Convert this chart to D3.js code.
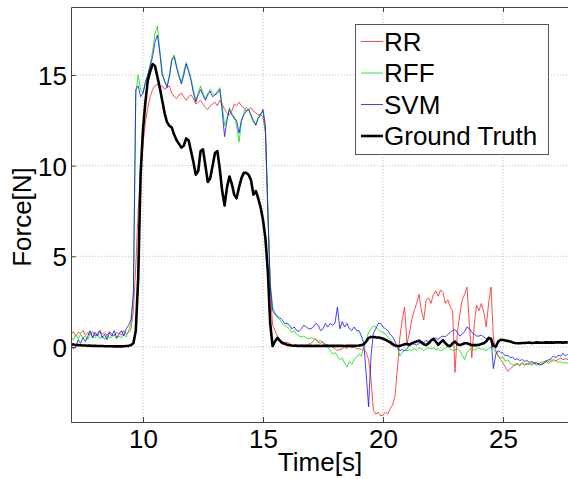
<!DOCTYPE html>
<html>
<head>
<meta charset="utf-8">
<script src="https://cdn.jsdelivr.net/npm/d3@7"></script>
<style>
  body { margin: 0; background: #fff; }
  svg { display: block; font-family: "Liberation Sans", Arial, sans-serif; }
</style>
</head>
<body>
<svg class="force_svg" width="568" height="479"></svg>
<script>
// sampling: 7.0 s .. 27.7 s, every 0.1 s
var t0 = 7, dt = 0.1;

var groundTruth = [
  0.15,0.13,0.11,0.10,0.09,0.08,0.08,0.07,0.07,0.06,
  0.06,0.05,0.05,0.05,0.04,0.04,0.04,0.04,0.03,0.03,
  0.03,0.03,0.04,0.05,0.06,0.1,0.2,0.9,3.8,9.5,
  12.0,13.5,14.7,15.2,15.6,15.5,14.9,14.3,13.6,12.9,
  12.4,12.2,12.1,11.7,11.4,11.2,11.0,11.1,11.5,11.4,
  10.8,10.2,9.5,9.7,10.8,10.9,10.0,9.1,9.3,10.0,
  10.7,10.8,9.8,8.6,7.8,8.8,9.4,9.0,8.4,8.2,
  8.8,9.3,9.6,9.6,9.5,9.2,8.4,8.6,8.2,7.7,
  7.0,6.0,4.2,1.3,0.05,0.3,0.5,0.35,0.22,0.18,
  0.12,0.1,0.08,0.07,0.07,0.06,0.06,0.07,0.06,0.06,
  0.06,0.05,0.06,0.06,0.05,0.06,0.07,0.06,0.06,0.07,
  0.06,0.07,0.06,0.06,0.05,0.06,0.07,0.06,0.06,0.07,
  0.08,0.1,0.15,0.3,0.5,0.55,0.55,0.53,0.52,0.5,
  0.45,0.4,0.32,0.25,0.15,0.08,0.05,0.06,0.1,0.15,
  0.17,0.12,0.2,0.25,0.3,0.35,0.25,0.15,0.1,0.2,
  0.35,0.45,0.3,0.12,0.25,0.37,0.2,0.08,0.05,0.2,
  0.3,0.15,0.1,0.15,0.2,0.2,0.15,0.1,0.1,0.1,
  0.12,0.17,0.2,0.3,0.5,0.45,0.05,0.02,0.3,0.4,
  0.38,0.36,0.33,0.3,0.25,0.22,0.2,0.2,0.22,0.22,
  0.23,0.24,0.22,0.23,0.25,0.24,0.23,0.24,0.25,0.24,
  0.25,0.24,0.25,0.26,0.25,0.24,0.25,0.25
];

var rr = [
  0.7,0.85,0.6,0.8,0.75,0.9,0.65,0.8,0.7,0.85,
  0.6,0.75,0.9,0.7,0.8,0.65,0.85,0.7,0.6,0.8,
  0.75,0.65,0.9,0.7,0.8,1.0,2.0,4.5,7.5,9.5,
  11.2,12.4,13.2,13.8,14.2,14.4,14.5,14.3,14.4,14.2,
  14.3,14.4,14.0,13.8,13.7,13.9,14.0,13.8,13.6,13.8,
  13.9,13.7,13.4,13.5,13.6,13.4,13.2,13.1,13.3,13.4,
  13.5,13.3,13.6,13.4,13.1,12.9,12.8,13.0,13.4,13.3,
  13.5,13.3,13.2,13.0,13.1,13.2,13.0,12.9,12.8,12.8,
  12.7,11.8,7.5,3.2,1.2,0.9,0.6,0.4,0.3,0.25,
  0.25,0.2,0.1,0.05,0.0,0.05,0.1,0.0,0.05,0.15,
  0.2,0.35,0.45,0.25,0.2,0.3,0.15,0.1,0.05,0.0,
  -0.1,-0.2,-0.15,-0.1,0.0,-0.1,0.05,-0.05,0.0,-0.1,
  -0.1,-0.15,-0.1,-0.3,-0.7,-1.8,-3.5,-3.7,-3.6,-3.8,
  -3.75,-3.6,-3.7,-3.4,-3.2,-2.7,-1.2,0.5,1.5,2.2,
  0.2,0.75,1.5,2.0,2.4,2.9,2.0,1.5,2.6,2.7,
  2.4,2.9,3.1,2.8,3.15,3.0,2.4,2.6,2.2,2.0,
  -1.4,0.8,1.8,2.6,2.9,3.3,1.2,-0.6,1.2,2.3,
  2.0,2.4,1.9,1.1,2.4,3.3,0.5,-0.2,-0.5,-0.7,
  -0.9,-1.1,-1.35,-1.2,-1.1,-1.0,-0.95,-1.05,-0.9,-1.0,
  -0.95,-0.9,-1.0,-0.85,-0.95,-0.9,-1.0,-0.85,-0.8,-0.9,
  -0.8,-0.7,-0.75,-0.7,-0.6,-0.7,-0.65,-0.7
];

var rff = [
  0.5,0.4,0.65,0.45,0.7,0.5,0.6,0.4,0.75,0.55,
  0.5,0.7,0.45,0.6,0.4,0.65,0.5,0.55,0.7,0.45,
  0.6,0.5,0.7,0.55,0.9,1.3,2.8,14.0,15.0,14.2,
  14.0,14.6,15.0,15.6,16.3,17.3,17.7,16.4,15.2,14.6,
  14.4,15.0,15.9,16.1,15.5,15.0,14.6,15.2,15.7,15.3,
  14.8,14.2,13.6,14.0,14.4,14.0,13.7,14.0,14.2,14.0,
  13.9,14.1,14.3,13.3,12.2,12.6,13.2,12.9,12.7,12.2,
  11.3,12.4,12.9,13.2,13.1,12.7,12.4,12.2,12.7,12.9,
  13.0,12.0,7.8,3.6,2.2,1.9,1.6,1.5,1.3,1.2,
  1.1,1.0,0.8,0.9,0.7,0.6,0.55,0.6,0.5,0.45,
  0.5,0.45,0.4,0.3,0.35,0.2,0.1,0.0,-0.2,-0.4,
  -0.3,-0.5,-0.7,-0.6,-0.9,-1.1,-0.8,-0.95,-0.7,-0.55,
  -0.4,-0.5,0.0,0.4,0.8,1.0,1.15,1.1,0.95,0.85,
  0.8,0.7,0.55,0.4,0.25,0.1,0.0,-0.5,-0.3,-0.2,
  -0.2,-0.15,-0.2,-0.1,-0.15,-0.05,-0.1,-0.2,-0.1,-0.05,
  -0.1,-0.05,-0.15,-0.1,-0.2,-0.15,-0.05,0.0,-0.1,-0.2,
  -0.15,-0.1,-0.2,-0.45,-0.7,-0.3,-0.15,-0.1,-0.2,-0.1,
  -0.05,-0.15,-0.1,-0.2,-0.1,0.0,-0.1,-0.3,-0.5,-0.6,
  -0.55,-0.8,-0.7,-0.9,-1.0,-0.95,-0.9,-1.0,-0.85,-0.95,
  -0.9,-1.0,-0.85,-0.95,-1.0,-0.9,-0.85,-0.8,-0.75,-0.8,
  -0.7,-0.8,-0.75,-0.85,-0.8,-0.9,-0.85,-0.9
];

var svm = [
  0.1,-0.1,0.0,0.4,0.2,0.5,0.3,0.6,0.9,0.5,
  0.8,0.6,0.9,0.5,0.7,0.4,0.8,0.6,0.9,0.5,
  0.7,0.9,0.6,1.0,1.2,1.5,3.0,14.2,14.4,13.8,
  14.0,14.6,15.0,15.5,16.0,16.8,17.2,16.2,15.0,14.7,
  14.3,14.9,15.8,16.0,15.4,14.9,14.5,15.0,15.6,15.2,
  14.7,14.0,13.5,13.9,14.2,13.9,13.6,13.9,14.1,13.8,
  13.9,14.0,14.2,13.0,11.6,12.5,13.1,12.8,12.6,12.5,
  11.8,12.5,12.8,13.0,13.1,12.8,12.5,12.25,12.6,12.8,
  13.1,12.2,7.6,3.4,2.0,1.8,1.7,1.6,1.5,1.3,
  1.3,1.2,1.0,1.1,0.9,0.85,1.0,1.2,1.1,1.0,
  1.0,1.1,1.3,1.2,0.9,1.0,1.3,1.1,1.3,1.2,
  1.3,2.2,1.0,1.4,1.1,1.3,1.0,0.9,1.1,0.9,
  0.9,0.6,0.2,-1.5,-3.3,-0.5,0.75,1.0,1.3,1.3,
  1.1,1.0,0.9,0.7,0.55,0.3,0.0,-0.2,-0.15,-0.2,
  -0.1,0.1,0.2,0.15,0.1,0.2,0.3,0.25,0.35,0.3,
  0.4,0.45,0.5,0.4,0.55,0.6,0.55,0.7,0.8,0.9,
  0.95,0.8,0.6,0.7,0.85,1.1,1.0,0.8,0.7,0.6,
  0.6,0.65,0.55,0.45,0.4,0.45,-1.2,-0.4,-0.2,-0.3,
  -0.35,-0.5,-0.45,-0.6,-0.55,-0.7,-0.65,-0.75,-0.7,-0.8,
  -0.75,-0.85,-0.8,-0.9,-0.85,-1.0,-0.95,-0.9,-0.8,-0.7,
  -0.65,-0.5,-0.6,-0.45,-0.5,-0.35,-0.5,-0.4
];

var xTicks = [10, 15, 20, 25];
var yTicks = [0, 5, 10, 15];
var legendNames = ["RR", "RFF", "SVM", "Ground Truth"];

var svg = d3.select("svg.force_svg");
var plotL = 71, plotT = 7, plotR = 568, plotB = 422;

var x = d3.scaleLinear().domain([7, 27.7]).range([plotL, 567.8]);
var y = d3.scaleLinear().domain([-4.14, 18.75]).range([plotB, plotT]);

var time = rr.map(function(d, i) { return t0 + i * dt; });

// dotted grid
svg.append("g").selectAll("line")
  .data(xTicks).enter().append("line")
  .attr("x1", function(d) { return x(d); })
  .attr("x2", function(d) { return x(d); })
  .attr("y1", plotT).attr("y2", plotB)
  .attr("stroke", "#bbb").attr("stroke-dasharray", "1,2");
svg.append("g").selectAll("line")
  .data(yTicks).enter().append("line")
  .attr("x1", plotL).attr("x2", plotR)
  .attr("y1", function(d) { return y(d); })
  .attr("y2", function(d) { return y(d); })
  .attr("stroke", "#bbb").attr("stroke-dasharray", "1,2");

svg.append("clipPath").attr("id", "plotclip")
  .append("rect").attr("x", plotL).attr("y", plotT)
  .attr("width", plotR - plotL).attr("height", plotB - plotT);

var line = d3.line()
  .x(function(d, i) { return x(time[i]); })
  .y(function(d) { return y(d); });

var series = [
  { values: rr, color: "#ff2020", width: 0.8 },
  { values: rff, color: "#00e000", width: 0.8 },
  { values: svm, color: "#1010ff", width: 0.8 },
  { values: groundTruth, color: "#000000", width: 2.6 }
];

var plot = svg.append("g").attr("clip-path", "url(#plotclip)");
plot.selectAll("path")
  .data(series).enter().append("path")
  .attr("d", function(d) { return line(d.values); })
  .attr("fill", "none")
  .attr("stroke", function(d) { return d.color; })
  .attr("stroke-width", function(d) { return d.width; })
  .attr("stroke-linejoin", "round");

// axes (ticks pointing inward, MATLAB style)
var xAxis = svg.append("g").attr("transform", "translate(0," + plotB + ")")
  .call(d3.axisBottom(x).tickValues(xTicks).tickSize(-5).tickSizeOuter(0).tickFormat(d3.format("d")));
xAxis.selectAll("text").attr("y", 26).attr("dy", null)
  .style("font-size", "26px").attr("fill", "#000");

svg.append("g").attr("transform", "translate(0," + plotT + ")")
  .call(d3.axisTop(x).tickValues(xTicks).tickSize(-5).tickSizeOuter(0).tickFormat(""));

var yAxis = svg.append("g").attr("transform", "translate(" + plotL + ",0)")
  .call(d3.axisLeft(y).tickValues(yTicks).tickSize(-5).tickSizeOuter(0).tickFormat(d3.format("d")));
yAxis.selectAll("text").attr("x", -4).attr("dy", "0.36em")
  .style("font-size", "26px").attr("fill", "#000");

svg.selectAll(".domain").attr("stroke", "#444");
svg.selectAll(".tick line").attr("stroke", "#444");

// axis labels
svg.append("text")
  .attr("x", 320).attr("y", 471)
  .attr("text-anchor", "middle")
  .style("font-size", "26px")
  .text("Time[s]");

svg.append("text")
  .attr("transform", "translate(31,217) rotate(-90)")
  .attr("text-anchor", "middle")
  .style("font-size", "26px")
  .text("Force[N]");

// legend
var legend = svg.append("g");
legend.append("rect")
  .attr("x", 355.5).attr("y", 24.5)
  .attr("width", 193).attr("height", 130)
  .attr("fill", "#fff").attr("stroke", "#555");

var rows = legend.selectAll("g.row")
  .data(series).enter().append("g")
  .attr("class", "row")
  .attr("transform", function(d, i) { return "translate(0," + (41.5 + i * 31.5) + ")"; });
rows.append("line")
  .attr("x1", 361).attr("x2", 383)
  .attr("stroke", function(d) { return d.color; })
  .attr("stroke-width", function(d) { return d.width; });
rows.append("text")
  .attr("x", 384).attr("y", 9)
  .style("font-size", "26px")
  .text(function(d, i) { return legendNames[i]; });
</script>
</body>
</html>
